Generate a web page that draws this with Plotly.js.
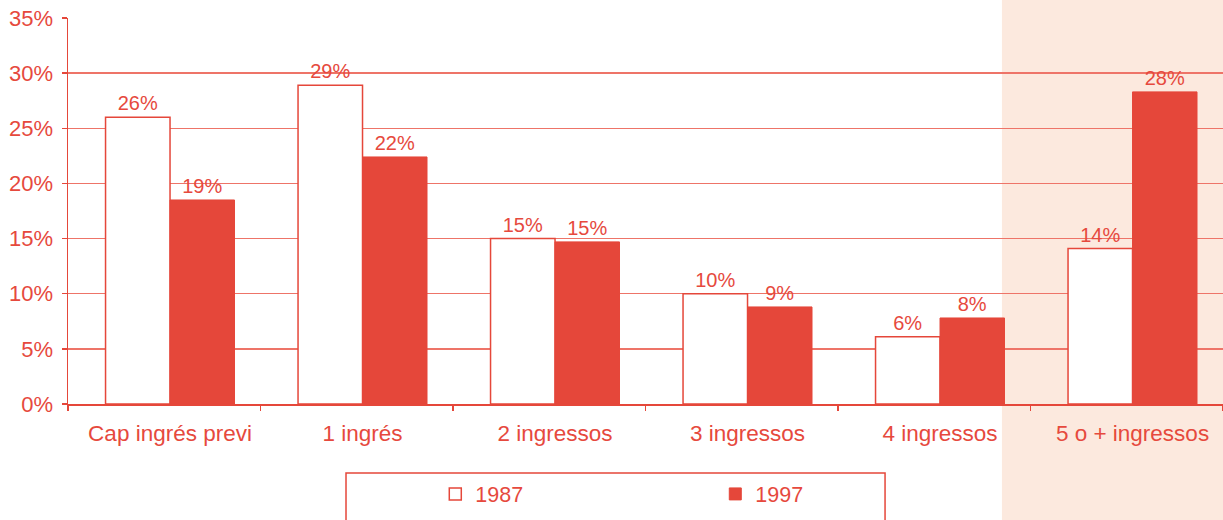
<!DOCTYPE html>
<html>
<head>
<meta charset="utf-8">
<script src="https://cdn.plot.ly/plotly-3.0.1.min.js"></script>
<style>
html,body{margin:0;padding:0;background:#fff;}
#chart{width:1223px;height:520px;}
</style>
</head>
<body>
<div id="chart"></div>
<script>
// Data
const categories = ["Cap ingrés previ", "1 ingrés", "2 ingressos", "3 ingressos", "4 ingressos", "5 o + ingressos"];
const values1987 = [26.0, 28.9, 15.0, 10.0, 6.1, 14.1];
const values1997 = [18.5, 22.4, 14.7, 8.8, 7.8, 28.3];
const seriesNames = ["1987", "1997"];
const yTickVals = [0, 5, 10, 15, 20, 25, 30, 35];

const RED = "#e5473a";
const TEXTRED = "#e6493d";
const GRID = "#ee7468";
const SHADE = "#fce9de";
const FONT = "Liberation Sans, Arial, sans-serif";

const xPos = categories.map((c, i) => i);

const trace1987 = {
  type: "bar",
  name: seriesNames[0],
  x: xPos,
  y: values1987,
  marker: {color: "#ffffff", line: {color: RED, width: 1.5}},
  texttemplate: "%{y:.0f}%",
  textposition: "outside",
  textfont: {family: FONT, size: 20, color: TEXTRED},
  cliponaxis: false,
  hoverinfo: "skip"
};
const trace1997 = {
  type: "bar",
  name: seriesNames[1],
  x: xPos,
  y: values1997,
  marker: {color: RED, line: {color: RED, width: 1}},
  texttemplate: "%{y:.0f}%",
  textposition: "outside",
  textfont: {family: FONT, size: 20, color: TEXTRED},
  cliponaxis: false,
  hoverinfo: "skip"
};

const layout = {
  width: 1223,
  height: 520,
  margin: {l: 68, r: 0, t: 18, b: 116, pad: 0},
  paper_bgcolor: "#ffffff",
  plot_bgcolor: "rgba(0,0,0,0)",
  font: {family: FONT, color: TEXTRED, size: 22},
  barmode: "group",
  bargap: 0.33,
  bargroupgap: 0,
  showlegend: true,
  legend: {
    orientation: "h",
    x: 0.318,
    xanchor: "left",
    y: -0.233,
    yanchor: "middle",
    bgcolor: "rgba(0,0,0,0)",
    borderwidth: 0,
    font: {family: FONT, size: 21.5, color: TEXTRED},
    entrywidth: 235,
    entrywidthmode: "pixels",
    traceorder: "normal"
  },
  xaxis: {
    range: [-0.53, categories.length - 0.53],
    tickmode: "array",
    tickvals: xPos,
    ticktext: categories,
    ticks: "",
    showgrid: false,
    zeroline: false,
    showline: true,
    linecolor: RED,
    linewidth: 1.5,
    tickfont: {family: FONT, size: 22.5, color: TEXTRED},
    ticklabelstandoff: 8,
    minor: {
      tickmode: "linear",
      tick0: -0.53,
      dtick: 1,
      ticks: "outside",
      ticklen: 5,
      tickwidth: 1.5,
      tickcolor: RED,
      showgrid: false
    },
    fixedrange: true
  },
  yaxis: {
    range: [0, 35],
    tickmode: "array",
    tickvals: yTickVals,
    ticktext: yTickVals.map(v => v + "%"),
    ticks: "outside",
    ticklen: 5,
    tickwidth: 1.5,
    tickcolor: RED,
    showgrid: true,
    gridcolor: GRID,
    gridwidth: 1.5,
    zeroline: false,
    showline: true,
    linecolor: RED,
    linewidth: 1.5,
    tickfont: {family: FONT, size: 22, color: TEXTRED},
    ticklabelstandoff: 4,
    fixedrange: true
  },
  shapes: [
    {
      type: "rect", xref: "paper", yref: "paper", layer: "below",
      x0: 0.8086, x1: 1.0, y0: -0.31, y1: 1.06,
      fillcolor: SHADE, line: {width: 0}
    },
    {
      type: "rect", xref: "paper", yref: "paper", layer: "below",
      x0: 0.2407, x1: 0.7074, y0: -0.35, y1: -0.1788,
      fillcolor: "#ffffff", line: {color: RED, width: 1.5}
    }
  ]
};

Plotly.newPlot("chart", [trace1987, trace1997], layout, {displayModeBar: false, staticPlot: true});
</script>
</body>
</html>
